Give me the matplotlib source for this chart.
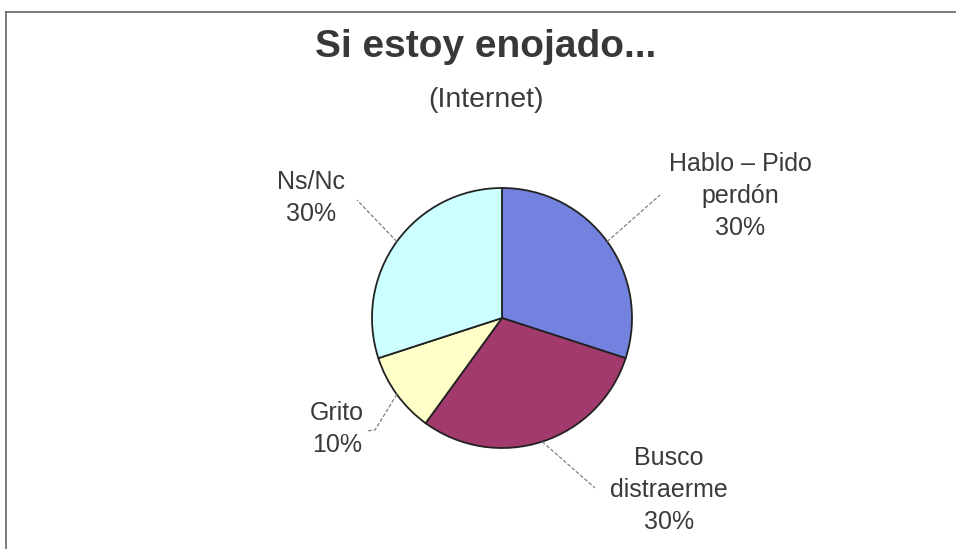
import numpy as np
import matplotlib
matplotlib.use("Agg")
import matplotlib.pyplot as plt

# Data
categories = ["Hablo – Pido\nperdón", "Busco\ndistraerme", "Grito", "Ns/Nc"]
values = [30, 30, 10, 30]
colors = ["#7282de", "#a23a6e", "#ffffc8", "#ccffff"]
title = "Si estoy enojado..."
subtitle = "(Internet)"

W, H = 956, 549
fig = plt.figure(figsize=(W / 100, H / 100), dpi=100)
ax = fig.add_axes([0, 0, 1, 1])
ax.set_xlim(0, W)
ax.set_ylim(0, H)
ax.set_aspect("equal")
ax.axis("off")

plt.rcParams["font.family"] = ["Liberation Sans", "DejaVu Sans"]

center = (502, H - 318)
radius = 130
wedges, _ = ax.pie(values, colors=colors, startangle=90, counterclock=False,
                   center=center, radius=radius, frame=True,
                   wedgeprops=dict(edgecolor="#222222", linewidth=1.3))
ax.set_xlim(0, W)
ax.set_ylim(0, H)
ax.axis("off")

# label block positions (pixel coords, y up)
label_pos = [(740, H - 196), (669, H - 490), (337, H - 429), (311, H - 198)]
leader_ends = [[(660, H - 195)], [(595, H - 488)], [(375, H - 430), (366, H - 431)], [(357, H - 200)]]

total = sum(values)
start = 90.0
for i, (cat, v) in enumerate(zip(categories, values)):
    ang = start - 360.0 * v / total / 2
    start -= 360.0 * v / total
    th = np.deg2rad(ang)
    x0 = center[0] + radius * np.cos(th)
    y0 = center[1] + radius * np.sin(th)
    pts = [(x0, y0)] + leader_ends[i]
    xs, ys = zip(*pts)
    ax.plot(xs, ys, color="#808080", lw=0.9, linestyle=(0, (3, 1.5)))
    ax.text(label_pos[i][0], label_pos[i][1], f"{cat}\n{v}%", ha="center", va="center",
            multialignment="center", fontsize=18, color="#3a3a3a", linespacing=1.4)

ax.text(486, H - 57, title, ha="center", va="baseline", fontsize=28,
        fontweight="bold", color="#383838")
ax.text(486, H - 107, subtitle, ha="center", va="baseline", fontsize=20.5,
        color="#3a3a3a")

# scanned frame: top and left border
ax.plot([6, W], [H - 12, H - 12], color="#666666", lw=1.2)
ax.plot([6, 6], [H - 12, 0], color="#666666", lw=1.2)

fig.savefig("out.png", dpi=100)
